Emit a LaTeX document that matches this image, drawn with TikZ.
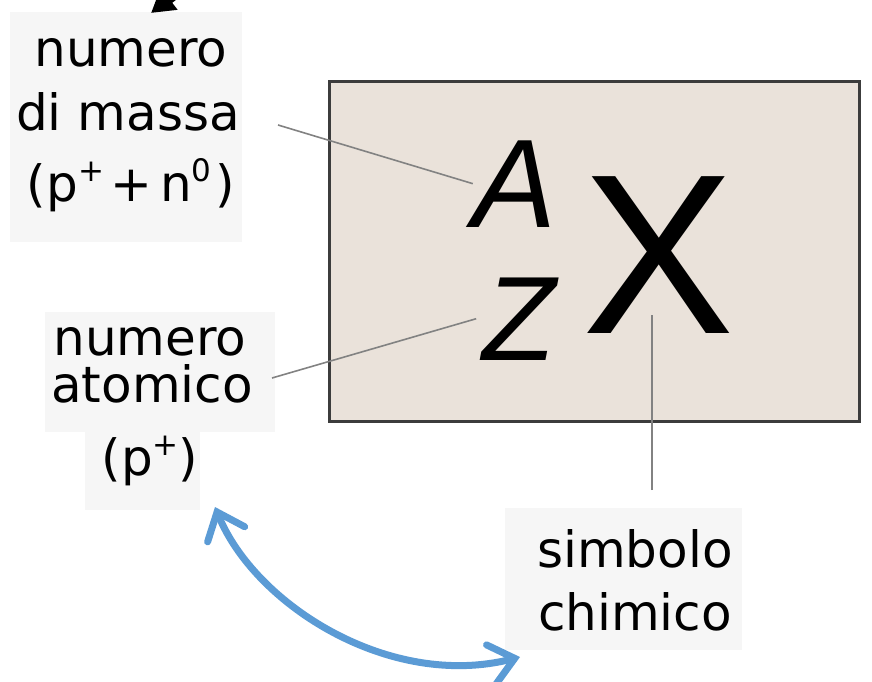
\documentclass[tikz,border=0pt]{standalone}
\usepackage{fontspec}
\setmainfont{DejaVu Sans}
\newfontfamily\libsans{Liberation Sans}
\usetikzlibrary{arrows.meta}
\definecolor{boxfill}{RGB}{234,226,218}
\definecolor{boxline}{RGB}{60,60,60}
\definecolor{labelbg}{RGB}{246,246,246}
\definecolor{leader}{RGB}{130,130,130}
\definecolor{arrowblue}{RGB}{91,155,213}
\newcommand\supp[1]{\raisebox{0.4em}{\fontsize{31}{31}\selectfont #1}}
\begin{document}
\begin{tikzpicture}[x=1pt,y=-1pt,
  lbl/.style={font=\fontsize{50}{63}\selectfont, inner sep=0pt, anchor=base},
  bgbox/.style={fill=labelbg, draw=none, inner sep=0pt, anchor=north west},
  lead/.style={draw=leader, line width=1.6pt},
  letter/.style={inner sep=0pt, anchor=base}]
\useasboundingbox (0,0) rectangle (872,682);

% label backgrounds
\node[bgbox, minimum width=232pt, minimum height=230pt] (bgA) at (10,12) {};
\node[bgbox, minimum width=230pt, minimum height=120pt] (bgZ) at (45,312) {};
\node[bgbox, minimum width=115pt, minimum height=78pt] (bgP) at (85,432) {};
\node[bgbox, minimum width=237pt, minimum height=142pt] (bgX) at (505,508) {};

% main box
\node[draw=boxline, line width=3pt, fill=boxfill, minimum width=530pt,
      minimum height=340pt, inner sep=0pt, anchor=north west] (box) at (328,80) {};

% symbol letters
\node[letter, font=\libsans\itshape\fontsize{126}{126}\selectfont] (A) at (515,227) {A};
\node[letter, font=\libsans\itshape\fontsize{120}{120}\selectfont] (Z) at (519,360) {Z};
\node[letter, font=\libsans\fontsize{228}{228}\selectfont] (X) at (659,333) {X};

% labels
\node[lbl] (m1) at (131,67) {numero};
\node[lbl] (m2) at (128,130) {di massa};
\node[lbl] (m3) at (131,201) {(p\supp{+}\hspace{6pt}+\hspace{8pt}n\supp{0}\hspace{4pt})};

\node[lbl] (z1) at (150,355) {numero};
\node[lbl] (z2) at (152,402) {atomico};
\node[lbl] (z3) at (150,475) {(p\supp{+})};

\node[lbl] (s1) at (635,567) {simbolo};
\node[lbl] (s2) at (635,630) {chimico};

% leader lines
\coordinate (mA) at (278,125);
\coordinate (mZ) at (272,378);
\coordinate (sX) at (652,490);
\draw[lead] (mA) -- (A.west);
\draw[lead] (mZ) -- ([xshift=-6pt]Z.west);
\draw[lead] (sX) -- ([yshift=18pt]X.base -| sX);

% blue double arrow
\coordinate (b1) at (215,507);
\coordinate (b2) at (520,657);
\draw[arrowblue, line width=7pt, line cap=round,
      {Straight Barb[length=24pt,width=40pt,line cap=round]}-{Straight Barb[length=24pt,width=40pt,line cap=round]}]
  (b1) .. controls (255,605) and (390,690) .. (b2);

% black arrow at the top edge (cut off)
\begin{scope}
\clip (0,0) rectangle (872,682);
\coordinate (t1) at (214,-36);
\coordinate (t2) at (151,13);
\draw[black, line width=10pt, -{Triangle[length=23pt,width=26pt]}] (t1) -- (t2);
\end{scope}
\end{tikzpicture}
\end{document}
